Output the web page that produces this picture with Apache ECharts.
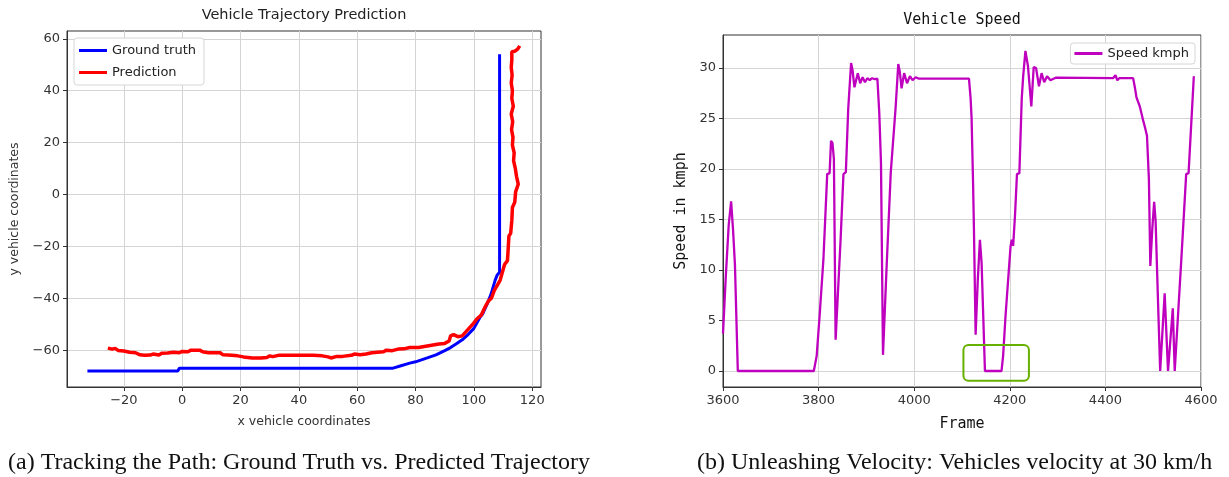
<!DOCTYPE html>
<html><head><meta charset="utf-8">
<script src="https://cdn.jsdelivr.net/npm/echarts@6/dist/echarts.min.js"></script>
<style>html,body{margin:0;padding:0;background:#fff}#c{width:1229px;height:477px}</style>
</head><body><div id="c"></div>
<script>
// ---------- Left chart: trajectory ----------
const gtX = [-32.5, -1.5, -1, 72, 72.5, 75, 78, 80, 84, 87, 90, 92, 94, 96, 98, 100, 102, 103, 104, 105, 106, 106.5, 107.3, 108, 108.8, 108.8];
const gtY = [-68, -68, -67, -67, -66.3, -66, -65, -64.5, -63, -61.8, -60.2, -59, -57.5, -56, -54, -51.6, -47.5, -46, -43.5, -41, -38, -36, -33, -31, -30, 54];
const predX = [-25.5, -24, -23, -22, -20, -18, -16, -14.5, -13, -11, -10, -8, -7, -5, -3, -1, 0, 2, 3, 6, 7, 9, 13, 14, 17, 19, 21, 24, 27, 29, 30, 31, 33, 40, 45, 48, 50, 51, 53, 55, 58, 59, 61, 63, 65, 67, 69, 70, 72, 74, 76, 78, 81, 83, 86, 88, 90, 91.5, 92, 93, 94.5, 96, 98, 100, 101, 102.5, 104, 105, 106, 107, 108, 109, 110, 110.5, 111.5, 111.8, 112, 112.6, 113, 113.2, 114, 114.3, 115.2, 114.6, 114.2, 113.6, 113.8, 113.2, 113.4, 112.9, 113.3, 112.8, 113.5, 113, 113.2, 112.8, 113.1, 112.8, 113, 113, 114, 114.6, 115, 115.7];
const predY = [-59.2, -59.6, -59.3, -60.1, -60.3, -60.8, -61, -61.8, -62, -61.9, -61.5, -61.9, -61.2, -61.1, -60.8, -61, -60.5, -60.6, -60, -60, -60.6, -61, -61, -61.8, -62, -62.2, -62.6, -63, -63, -62.8, -62.2, -62.5, -62, -62, -62, -62.2, -62.6, -63, -62.4, -62.4, -62, -61.5, -61.8, -61.5, -61, -60.8, -60.6, -60, -60.2, -59.6, -59.5, -59, -59, -58.6, -58, -57.6, -57.4, -56.5, -54.5, -54, -54.8, -54.5, -52, -49.5, -48, -46.5, -43, -41, -40, -37, -35, -33, -29, -27, -25.5, -20, -16, -15, -10, -5, -3, 1, 4, 7, 10, 13, 16, 19, 22, 25, 28, 31, 34, 37, 40, 43, 46, 49, 52, 55, 55.2, 54.5, 56, 57.3];
const trajXTicks = [-20, 0, 20, 40, 60, 80, 100, 120];
const trajYTicks = [-60, -40, -20, 0, 20, 40, 60];

// ---------- Right chart: speed ----------
const frames = [3600, 3606, 3612, 3617, 3621, 3625, 3631, 3790, 3796, 3802, 3810, 3818, 3823, 3826, 3829, 3832, 3835.6, 3840, 3846, 3852, 3857, 3862, 3868, 3871, 3875, 3882, 3887, 3892, 3897, 3902, 3907, 3912, 3918, 3923, 3927, 3930.5, 3934.7, 3942, 3951, 3955, 3961, 3966.7, 3970, 3973.6, 3979, 3985, 3991, 3996.5, 4003, 4010, 4114.6, 4118, 4120, 4123, 4125, 4128.5, 4133, 4137.5, 4141, 4148, 4182.7, 4186, 4191, 4201.5, 4204, 4207, 4211, 4215, 4220, 4225, 4228, 4232.7, 4238, 4241, 4245, 4250, 4255, 4261, 4266.5, 4272, 4278, 4285, 4296, 4416, 4421, 4425, 4429, 4433, 4458, 4462, 4465, 4472, 4478, 4483, 4487, 4491, 4494, 4498, 4502, 4505, 4510, 4514.6, 4524, 4531, 4541, 4545, 4560, 4569, 4574, 4585];
const speed = [3.7, 9.5, 14.5, 16.8, 14, 10.5, 0, 0, 1.5, 5.4, 11, 19.5, 19.6, 22.8, 22.6, 21, 3.1, 7.3, 13, 19.5, 19.7, 26, 30.5, 29.8, 28.1, 29.5, 28.5, 29.1, 28.6, 29, 28.8, 29, 28.9, 28.95, 25.5, 20.6, 1.6, 10, 19.7, 19.7, 26, 30.4, 29.6, 28, 29.5, 28.5, 29.2, 28.8, 29.1, 28.95, 28.95, 27, 25.1, 19, 14, 3.6, 9, 13, 10.7, 0, 0, 1.5, 5.4, 12.3, 13, 12.4, 15.5, 19.5, 19.6, 27, 29.2, 31.7, 30.2, 28.5, 26.2, 30.1, 30, 28.2, 29.5, 28.6, 29.2, 28.8, 29.05, 29, 29.3, 28.8, 29, 28.95, 29, 28, 27.1, 26.2, 25, 24.1, 23.3, 19, 10.4, 14, 16.75, 14.9, 7, 0, 7.7, 0, 6.2, 0, 12, 19.5, 19.6, 29.2];
const speedYTicks = [0, 5, 10, 15, 20, 25, 30];
const highlightBox = [4103, 4240, -0.97, 2.57]; // frame from/to, speed from/to

const texts = {
  leftTitle: 'Vehicle Trajectory Prediction',
  rightTitle: 'Vehicle Speed',
  capA: '(a) Tracking the Path: Ground Truth vs. Predicted Trajectory',
  capB: '(b) Unleashing Velocity: Vehicles velocity at 30 km/h'
};

const zip = (a, b) => a.map((v, i) => [v, b[i]]);
const fmtMinus = v => String(v).replace('-', '\u2212');

const frameColor = '#333';
const gridColor = '#d4d4d4';
function axisBase(extra) {
  return Object.assign({
    type: 'value',
    axisLine: { show: true, onZero: false, lineStyle: { color: frameColor, width: 1 } },
    axisTick: { show: true, inside: false, length: 4, lineStyle: { color: frameColor } },
    splitLine: { show: true, lineStyle: { color: gridColor, width: 1 } },
    nameTextStyle: { color: '#333' }
  }, extra);
}
const tickFont = { color: '#333', fontFamily: 'DejaVu Sans', fontSize: 13 };

const chart = echarts.init(document.getElementById('c'));
chart.setOption({
  animation: false,
  backgroundColor: '#fff',
  title: [
    { text: texts.leftTitle, left: 304, top: 8, textAlign: 'center', padding: 0,
      textStyle: { fontFamily: 'DejaVu Sans', fontSize: 14.5, fontWeight: 'normal', color: '#222' } },
    { text: texts.rightTitle, left: 962, top: 13, textAlign: 'center', padding: 0,
      textStyle: { fontFamily: 'DejaVu Sans Mono', fontSize: 15, fontWeight: 'normal', color: '#111' } },
    { text: texts.capA, left: 8, top: 451, padding: 0,
      textStyle: { fontFamily: 'Liberation Serif', fontSize: 24, fontWeight: 'normal', color: '#111' } },
    { text: texts.capB, left: 697, top: 451, padding: 0,
      textStyle: { fontFamily: 'Liberation Serif', fontSize: 24, fontWeight: 'normal', color: '#111' } }
  ],
  legend: [
    { data: ['Ground truth', 'Prediction'], orient: 'vertical', left: 74, top: 38,
      icon: 'rect', itemWidth: 28, itemHeight: 3, itemGap: 9,
      backgroundColor: '#fff', borderColor: '#d6d6d6', borderWidth: 1, borderRadius: 3,
      padding: [6, 8, 6, 5],
      textStyle: { fontFamily: 'DejaVu Sans', fontSize: 13, color: '#222' } },
    { data: ['Speed kmph'], orient: 'vertical', right: 34, top: 43,
      icon: 'rect', itemWidth: 28, itemHeight: 3,
      backgroundColor: '#fff', borderColor: '#d6d6d6', borderWidth: 1, borderRadius: 3,
      padding: [4, 6, 4, 4],
      textStyle: { fontFamily: 'DejaVu Sans', fontSize: 13, color: '#222' } }
  ],
  grid: [
    { left: 67, right: 688, top: 31, bottom: 90, show: true, borderColor: frameColor, borderWidth: 1 },
    { left: 723, right: 28, top: 35, bottom: 90, show: true, borderColor: frameColor, borderWidth: 1 }
  ],
  xAxis: [
    axisBase({ gridIndex: 0, min: -39.5, max: 123,
      axisTick: { show: true, length: 4, lineStyle: { color: frameColor }, customValues: trajXTicks },
      axisLabel: Object.assign({ customValues: trajXTicks, margin: 7, formatter: fmtMinus }, tickFont),
      name: 'x vehicle coordinates', nameLocation: 'middle', nameGap: 28,
      nameTextStyle: { fontFamily: 'DejaVu Sans', fontSize: 12.5, color: '#333' } }),
    axisBase({ gridIndex: 1, min: 3600, max: 4600, interval: 200,
      axisLabel: Object.assign({ margin: 7, formatter: v => String(v) }, tickFont),
      name: 'Frame', nameLocation: 'middle', nameGap: 30,
      nameTextStyle: { fontFamily: 'DejaVu Sans Mono', fontSize: 15, color: '#111' } })
  ],
  yAxis: [
    axisBase({ gridIndex: 0, min: -74.2, max: 63,
      axisTick: { show: true, length: 4, lineStyle: { color: frameColor }, customValues: trajYTicks },
      axisLabel: Object.assign({ customValues: trajYTicks, margin: 7, formatter: fmtMinus }, tickFont),
      name: 'y vehicle coordinates', nameLocation: 'middle', nameGap: 46,
      nameTextStyle: { fontFamily: 'DejaVu Sans', fontSize: 12.5, color: '#333' } }),
    axisBase({ gridIndex: 1, min: -1.585, max: 33.28,
      axisTick: { show: true, length: 4, lineStyle: { color: frameColor }, customValues: speedYTicks },
      axisLabel: Object.assign({ customValues: speedYTicks, margin: 7 }, tickFont),
      name: 'Speed in kmph', nameLocation: 'middle', nameGap: 34,
      nameTextStyle: { fontFamily: 'DejaVu Sans Mono', fontSize: 15, color: '#111' } })
  ],
  series: [
    { name: 'Ground truth', type: 'line', xAxisIndex: 0, yAxisIndex: 0, data: zip(gtX, gtY),
      showSymbol: false, color: '#0000ff', lineStyle: { width: 3, color: '#0000ff' } },
    { name: 'Prediction', type: 'line', xAxisIndex: 0, yAxisIndex: 0, data: zip(predX, predY),
      showSymbol: false, color: '#ff0000', lineStyle: { width: 3.5, color: '#ff0000' } },
    { name: 'Speed kmph', type: 'line', xAxisIndex: 1, yAxisIndex: 1, data: zip(frames, speed),
      showSymbol: false, color: '#bf00bf', lineStyle: { width: 2.3, color: '#bf00bf' } }
  ]
});

const p1 = chart.convertToPixel({ gridIndex: 1 }, [highlightBox[0], highlightBox[3]]);
const p2 = chart.convertToPixel({ gridIndex: 1 }, [highlightBox[1], highlightBox[2]]);
chart.setOption({
  graphic: [{
    type: 'rect', z: 100,
    shape: { x: p1[0], y: p1[1], width: p2[0] - p1[0], height: p2[1] - p1[1], r: 5 },
    style: { fill: 'none', stroke: '#66b000', lineWidth: 2 }
  }]
});
</script></body></html>
